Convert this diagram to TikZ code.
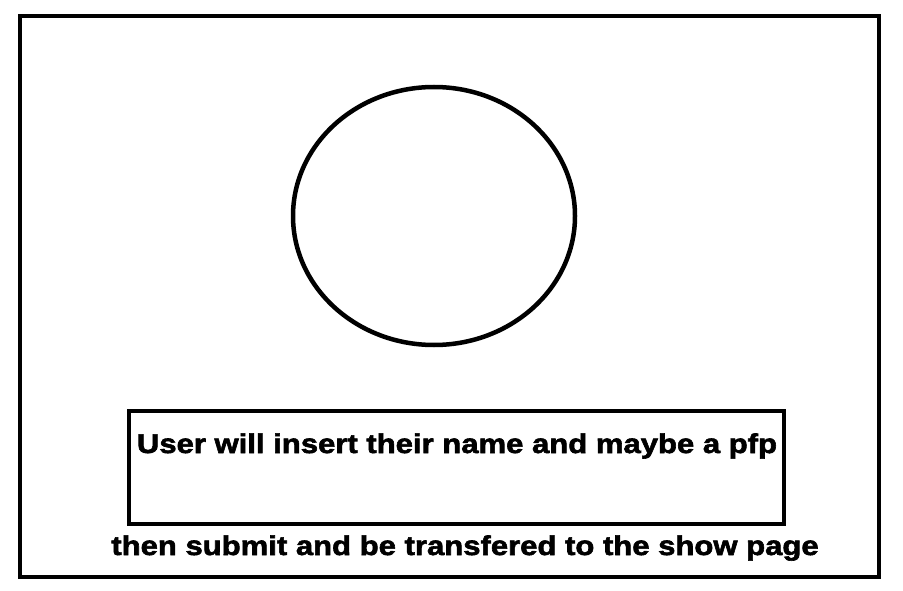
\documentclass[tikz,border=0pt]{standalone}
\usepackage{fontspec}
\setmainfont{Liberation Sans}
\newfontfamily\heavyfont{Liberation Sans Bold}[FakeBold=2.2,FakeStretch=1.15]
\begin{document}
\begin{tikzpicture}[x=1pt,y=-1pt]
    % Frame
    \useasboundingbox (0,0) rectangle (903,591);
    \tikzset{sketch/.style={line width=4.5pt,black}}
    \tikzset{scrawl/.style={font=\heavyfont\fontsize{27}{29}\selectfont,anchor=base,inner sep=0pt}}

    \draw[sketch] (20,16) rectangle (879,577);

    % Picture circle
    \draw[sketch] (434,216) ellipse [x radius=141, y radius=129];

    % Name box
    \draw[sketch] (129,411) rectangle (784,524);
    \node[scrawl] (name) at (457,453) {User will insert their name and maybe a pfp};

    \node[scrawl] (submit) at (465,555) {then submit and be transfered to the show page};
\end{tikzpicture}
\end{document}
